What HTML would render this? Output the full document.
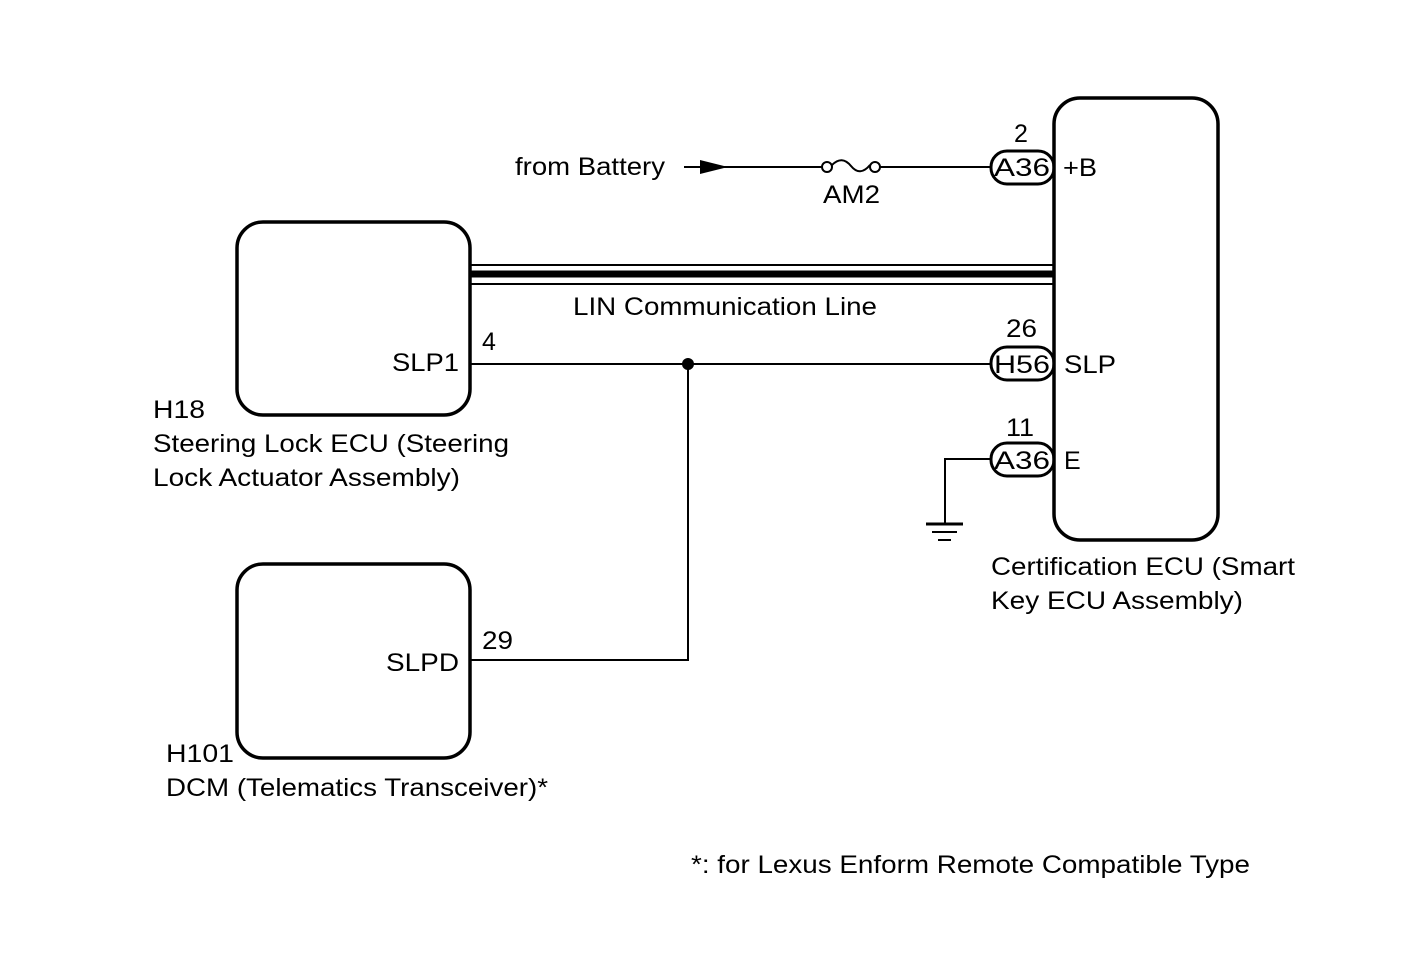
<!DOCTYPE html>
<html><head><style>body{margin:0;background:#fff}svg{display:block}text{font-family:"Liberation Sans",Arial,sans-serif;font-size:25px;fill:#000}</style></head>
<body>
<svg width="1424" height="959" viewBox="0 0 1424 959" xmlns="http://www.w3.org/2000/svg">
<g fill="none" stroke="#000">
<rect x="237" y="222" width="233" height="193" rx="26" stroke-width="3.5"/>
<rect x="237" y="564" width="233" height="194" rx="26" stroke-width="3.5"/>
<rect x="1054" y="98" width="164" height="442" rx="26" stroke-width="3.5"/>
<line x1="470" y1="265" x2="1054" y2="265" stroke-width="2"/>
<line x1="470" y1="274" x2="1054" y2="274" stroke-width="7"/>
<line x1="470" y1="284" x2="1054" y2="284" stroke-width="2"/>
<polyline points="470,364 992,364" stroke-width="2"/>
<polyline points="688,364 688,660 470,660" stroke-width="2"/>
<line x1="684" y1="167" x2="822" y2="167" stroke-width="2"/>
<line x1="880" y1="167" x2="992" y2="167" stroke-width="2"/>
<circle cx="827" cy="167" r="5" stroke-width="2"/>
<circle cx="875" cy="167" r="5" stroke-width="2"/>
<path d="M832 165 Q842 155 851 166 Q860 177 870 165" stroke-width="2"/>
<rect x="991" y="151" width="63" height="33" rx="16" stroke-width="3"/>
<rect x="991" y="347" width="63" height="33" rx="16" stroke-width="3"/>
<rect x="991" y="443" width="63" height="33" rx="16" stroke-width="3"/>
<polyline points="991,459 945,459 945,524" stroke-width="2"/>
<line x1="926" y1="524" x2="963" y2="524" stroke-width="3"/>
<line x1="932" y1="532" x2="957" y2="532" stroke-width="2"/>
<line x1="938" y1="540" x2="951" y2="540" stroke-width="2"/>
</g>
<polygon points="700,160 700,174 728,167" fill="#000"/>
<circle cx="688" cy="364" r="6" fill="#000"/>
<text x="515" y="175" textLength="150" lengthAdjust="spacingAndGlyphs">from Battery</text>
<text x="823" y="203" textLength="57" lengthAdjust="spacingAndGlyphs">AM2</text>
<text x="1014" y="142">2</text>
<text x="994" y="176" textLength="56" lengthAdjust="spacingAndGlyphs">A36</text>
<text x="1063" y="176" textLength="34" lengthAdjust="spacingAndGlyphs">+B</text>
<text x="573" y="315" textLength="304" lengthAdjust="spacingAndGlyphs">LIN Communication Line</text>
<text x="1006" y="337" textLength="31" lengthAdjust="spacingAndGlyphs">26</text>
<text x="994" y="373" textLength="56" lengthAdjust="spacingAndGlyphs">H56</text>
<text x="1064" y="373" textLength="52" lengthAdjust="spacingAndGlyphs">SLP</text>
<text x="1006" y="436" textLength="28" lengthAdjust="spacingAndGlyphs">11</text>
<text x="994" y="469" textLength="56" lengthAdjust="spacingAndGlyphs">A36</text>
<text x="1064" y="469">E</text>
<text x="392" y="371" textLength="67" lengthAdjust="spacingAndGlyphs">SLP1</text>
<text x="482" y="350">4</text>
<text x="386" y="671" textLength="73" lengthAdjust="spacingAndGlyphs">SLPD</text>
<text x="482" y="649" textLength="31" lengthAdjust="spacingAndGlyphs">29</text>
<text x="153" y="418" textLength="52" lengthAdjust="spacingAndGlyphs">H18</text>
<text x="153" y="452" textLength="356" lengthAdjust="spacingAndGlyphs">Steering Lock ECU (Steering</text>
<text x="153" y="486" textLength="307" lengthAdjust="spacingAndGlyphs">Lock Actuator Assembly)</text>
<text x="166" y="762" textLength="68" lengthAdjust="spacingAndGlyphs">H101</text>
<text x="166" y="796" textLength="382" lengthAdjust="spacingAndGlyphs">DCM (Telematics Transceiver)*</text>
<text x="991" y="575" textLength="304" lengthAdjust="spacingAndGlyphs">Certification ECU (Smart</text>
<text x="991" y="609" textLength="252" lengthAdjust="spacingAndGlyphs">Key ECU Assembly)</text>
<text x="691" y="873" textLength="559" lengthAdjust="spacingAndGlyphs">*: for Lexus Enform Remote Compatible Type</text>
</svg>
</body></html>
